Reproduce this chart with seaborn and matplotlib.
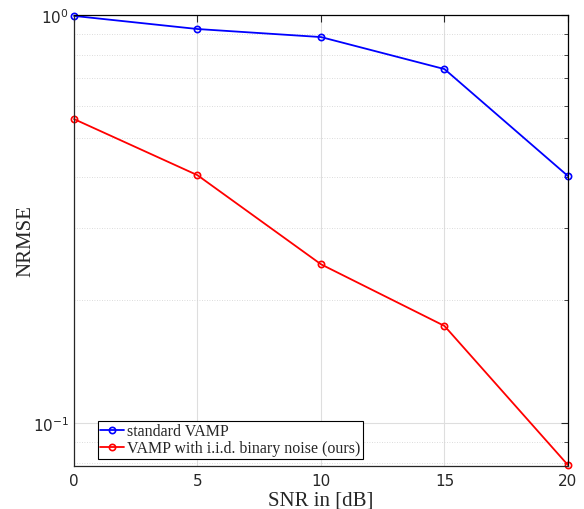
import numpy as np
import pandas as pd
import matplotlib
matplotlib.use("Agg")
import matplotlib.pyplot as plt
import seaborn as sns
from matplotlib.ticker import LogLocator, NullFormatter

snr_db = [0, 5, 10, 15, 20]
nrmse_standard = [0.995, 0.924, 0.883, 0.737, 0.403]
nrmse_binary = [0.556, 0.405, 0.245, 0.173, 0.0789]
labels = ["standard VAMP", "VAMP with i.i.d. binary noise (ours)"]

sns.set_style("white")
plt.rcParams["font.family"] = ["DejaVu Sans"]
plt.rcParams["mathtext.fontset"] = "dejavusans"

df = pd.DataFrame({
    "snr": snr_db * 2,
    "nrmse": nrmse_standard + nrmse_binary,
    "method": [labels[0]] * 5 + [labels[1]] * 5,
})

fig = plt.figure(figsize=(5.84, 5.10), dpi=100)
ax = fig.add_axes([0.1267, 0.0843, 0.8459, 0.8843])

sns.lineplot(data=df, x="snr", y="nrmse", hue="method",
             palette=["#0000ff", "#ff0000"], marker="o", markersize=4.5,
             markerfacecolor="none", markeredgewidth=1.2, linewidth=1.3,
             ax=ax, legend=True)
for ln, c in zip(ax.get_lines(), ["#0000ff", "#ff0000"]):
    ln.set_markeredgecolor(c)
    ln.set_clip_on(False)

ax.set_yscale("log")
ax.set_xlim(0, 20)
ax.set_ylim(0.0785, 1.0)
ax.set_xticks([0, 5, 10, 15, 20])
ax.yaxis.set_major_locator(LogLocator(base=10))
ax.yaxis.set_minor_locator(LogLocator(base=10, subs=np.arange(2, 10)))
ax.yaxis.set_minor_formatter(NullFormatter())

ax.grid(True, which="major", color="#dedede", linewidth=0.8)
ax.grid(True, which="minor", axis="y", color="#d0d0d0", linewidth=0.6, linestyle=(0, (1, 2)))
ax.set_axisbelow(True)

for s in ax.spines.values():
    s.set_visible(True)
    s.set_linewidth(0.9)
ax.spines["top"].set_color("black")
ax.spines["right"].set_color("black")
ax.spines["left"].set_color("#262626")
ax.spines["bottom"].set_color("#262626")

ax.tick_params(which="both", direction="in", top=True, right=True, colors="#262626",
               labelsize=11, labelcolor="#262626")
ax.tick_params(which="major", length=5)
ax.tick_params(which="minor", length=3)
ax.tick_params(axis="x", pad=5)

ax.set_xlabel("SNR in [dB]", family="Liberation Serif", fontsize=15, labelpad=2)
ax.set_ylabel("NRMSE", family="Liberation Serif", fontsize=15, labelpad=-2)

leg = ax.legend(loc="lower left", bbox_to_anchor=(0.038, 0.006), frameon=True,
                fancybox=False, prop={"family": "Liberation Serif", "size": 11.5},
                handlelength=1.5, handletextpad=0.2, borderpad=0.15, labelspacing=0.05,
                borderaxespad=0.3)
leg.get_frame().set_edgecolor("black")
leg.get_frame().set_linewidth(0.8)
leg.get_frame().set_alpha(1)
for h, c in zip(leg.get_lines(), ["#0000ff", "#ff0000"]):
    h.set_markerfacecolor("none")
    h.set_markeredgecolor(c)

fig.savefig("out.png", dpi=100)
